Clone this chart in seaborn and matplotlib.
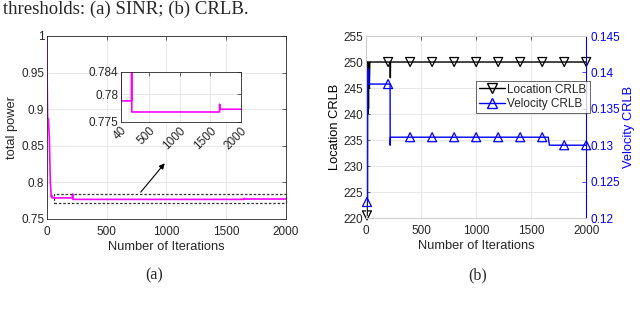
import numpy as np
import pandas as pd
import matplotlib
matplotlib.use('Agg')
import matplotlib.pyplot as plt
from matplotlib.lines import Line2D
from matplotlib.patches import Rectangle
import seaborn as sns

# (a) total power vs iterations
power_iter = [0, 1, 5, 12, 20, 28, 36, 40, 42, 212, 213, 216, 217, 1650, 1652, 1656, 2000]
power_val = [1.0, 0.95, 0.889, 0.886, 0.86, 0.80, 0.7805, 0.7822, 0.7788, 0.7788, 0.784, 0.784,
             0.7768, 0.7768, 0.7782, 0.7773, 0.7773]

# (b) CRLB vs iterations
loc_iter = [0, 10, 12, 16, 18, 22, 26, 30, 34, 40, 218, 219, 221, 222, 2000]
loc_val = [220.5, 220.5, 250, 240, 250, 241, 250, 245, 250, 250, 250, 247, 247, 250, 250]
vel_iter = [0, 14, 15, 24, 28, 60, 218, 219, 221, 1655, 1665, 2000]
vel_val = [0.1222, 0.1222, 0.1405, 0.1405, 0.1384, 0.1384, 0.1384, 0.1300, 0.1311,
           0.1311, 0.1300, 0.1300]
marker_iter = [8, 200, 400, 600, 800, 1000, 1200, 1400, 1600, 1800, 2000]
loc_marker = [220.5, 250, 250, 250, 250, 250, 250, 250, 250, 250, 250]
vel_marker = [0.1222, 0.1384, 0.1311, 0.1311, 0.1311, 0.1311, 0.1311, 0.1311, 0.1311, 0.1300, 0.1300]

# zoom box + arrow in (a)
box_x = [55, 2000]
box_y = [0.7714, 0.7838]
arrow_from = (770, 0.7838)
arrow_to = (1000, 0.829)

sns.set_style('whitegrid')
plt.rcParams['font.family'] = ['Liberation Sans', 'DejaVu Sans']
plt.rcParams['grid.color'] = '#e3e3e3'
plt.rcParams['grid.linewidth'] = 0.6
fs = 8.5
lfs = 9.3

fig = plt.figure(figsize=(6.4, 3.19), dpi=100)


def matlab_axes(ax, xpad=2):
    for s in ax.spines.values():
        s.set_visible(True)
        s.set_color('#262626')
        s.set_linewidth(0.6)
    ax.tick_params(direction='in', length=3, width=0.5, labelsize=fs, colors='#262626', pad=2,
                   top=True, right=True)
    ax.tick_params(axis='x', pad=xpad)


# ---- (a)
ax1 = fig.add_axes([0.0734, 0.3135, 0.3734, 0.5737])
df_p = pd.DataFrame({'it': power_iter, 'p': power_val})
sns.lineplot(data=df_p, x='it', y='p', ax=ax1, color='#ff00ff', lw=1.2, estimator=None, sort=False)
ax1.set_xlim(0, 2000)
ax1.set_ylim(0.75, 1.0)
ax1.set_xticks([0, 500, 1000, 1500, 2000])
ax1.set_yticks([0.75, 0.8, 0.85, 0.9, 0.95, 1.0])
ax1.set_yticklabels(['0.75', '0.8', '0.85', '0.9', '0.95', '1'])
ax1.set_xlabel('Number of Iterations', fontsize=lfs, labelpad=2)
ax1.set_ylabel('total power', fontsize=lfs, labelpad=2)
matlab_axes(ax1, xpad=5)
ax1.add_patch(Rectangle((box_x[0], box_y[0]), box_x[1] - box_x[0], box_y[1] - box_y[0],
                        fill=False, ls=(0, (2, 1.5)), lw=0.9, ec='#333333', clip_on=False, zorder=3))
ax1.annotate('', xy=arrow_to, xytext=arrow_from,
             arrowprops=dict(arrowstyle='-|>', color='k', lw=0.8, mutation_scale=8))

ins = fig.add_axes([0.189, 0.6176, 0.1875, 0.1567])
sns.lineplot(data=df_p, x='it', y='p', ax=ins, color='#ff00ff', lw=1.2, estimator=None, sort=False)
ins.set_xlim(40, 2000)
ins.set_ylim(0.775, 0.784)
ins.set_xticks([40, 500, 1000, 1500, 2000])
ins.set_yticks([0.775, 0.78, 0.784])
ins.set_yticklabels(['0.775', '0.78', '0.784'])
ins.set_xlabel('')
ins.set_ylabel('')
matlab_axes(ins)
for lab in ins.get_xticklabels():
    lab.set_rotation(45)
    lab.set_ha('right')
    lab.set_rotation_mode('anchor')

# ---- (b)
ax2 = fig.add_axes([0.572, 0.3166, 0.344, 0.5705])
df_l = pd.DataFrame({'it': loc_iter, 'v': loc_val})
sns.lineplot(data=df_l, x='it', y='v', ax=ax2, color='k', lw=1.0, estimator=None, sort=False)
sns.scatterplot(x=marker_iter, y=loc_marker, ax=ax2, marker='v', s=42, facecolor='none',
                edgecolor='k', linewidth=0.9, zorder=4, clip_on=False)
ax2.set_xlim(0, 2000)
ax2.set_ylim(220, 255)
ax2.set_xticks([0, 500, 1000, 1500, 2000])
ax2.set_yticks(np.arange(220, 256, 5))
ax2.set_xlabel('Number of Iterations', fontsize=lfs, labelpad=2)
ax2.set_ylabel('Location CRLB', fontsize=lfs, labelpad=2, color='k')
matlab_axes(ax2, xpad=5)
ax2.tick_params(right=False)

ax3 = ax2.twinx()
df_v = pd.DataFrame({'it': vel_iter, 'v': vel_val})
sns.lineplot(data=df_v, x='it', y='v', ax=ax3, color='#0000ff', lw=1.0, estimator=None, sort=False)
sns.scatterplot(x=marker_iter, y=vel_marker, ax=ax3, marker='^', s=42, facecolor='none',
                edgecolor='#0000ff', linewidth=0.9, zorder=4, clip_on=False)
ax3.set_ylim(0.12, 0.145)
ax3.set_yticks([0.12, 0.125, 0.13, 0.135, 0.14, 0.145])
ax3.set_yticklabels(['0.12', '0.125', '0.13', '0.135', '0.14', '0.145'])
ax3.set_ylabel('Velocity CRLB', fontsize=lfs, color='#0000ff', labelpad=2)
ax3.grid(False)
ax3.tick_params(direction='in', length=3, width=0.5, labelsize=fs, colors='#0000ff', pad=3)
ax3.spines['right'].set_color('#0000ff')

handles = [Line2D([], [], color='k', marker='v', mfc='none', lw=1.0, ms=6.5),
           Line2D([], [], color='#0000ff', marker='^', mfc='none', lw=1.0, ms=6.5)]
leg = ax3.legend(handles, ['Location CRLB', 'Velocity CRLB'], loc='upper left',
                 bbox_to_anchor=(0.5, 0.755), fontsize=fs, frameon=True, fancybox=False,
                 edgecolor='#262626', handlelength=2.2, handletextpad=0.2, borderpad=0.25,
                 labelspacing=0.2, borderaxespad=0)
leg.get_frame().set_linewidth(0.6)

# caption text
fig.text(0.004, 0.955, 'thresholds: (a) SINR; (b) CRLB.', fontsize=13.5,
         family=['Liberation Serif', 'DejaVu Serif'], va='baseline')
fig.text(0.241, 0.125, '(a)', fontsize=11.5, family=['Liberation Serif', 'DejaVu Serif'], ha='center')
fig.text(0.747, 0.125, '(b)', fontsize=11.5, family=['Liberation Serif', 'DejaVu Serif'], ha='center')

fig.savefig('out.png', dpi=100)
